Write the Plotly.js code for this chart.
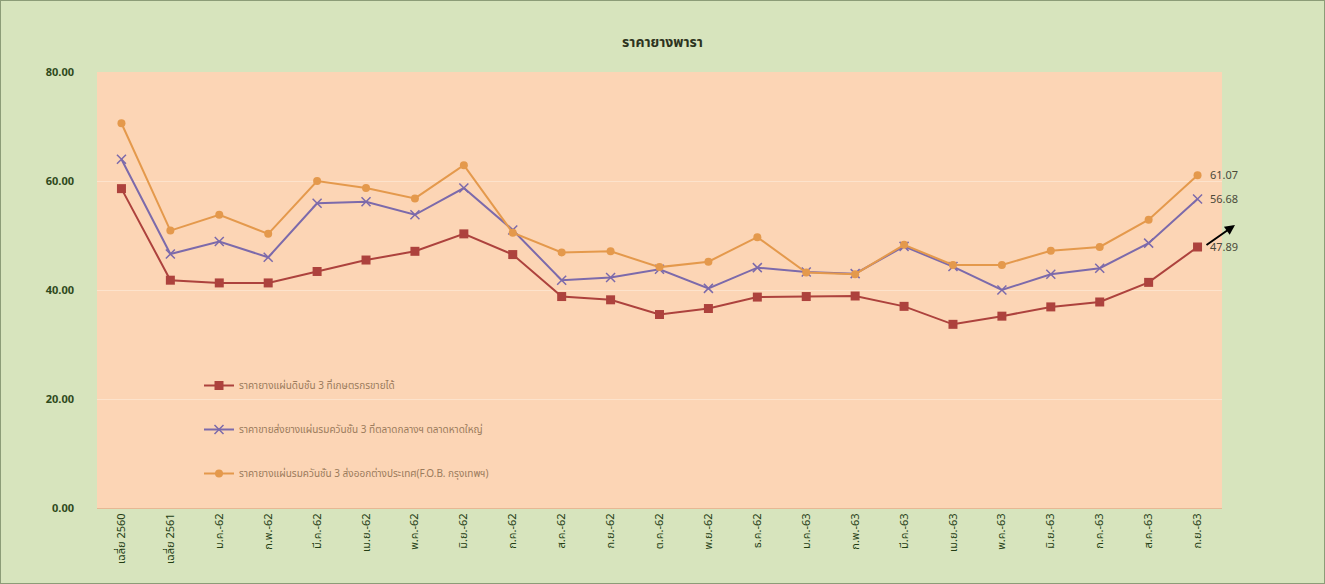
<!DOCTYPE html>
<html>
<head>
<meta charset="utf-8">
<script src="https://cdn.plot.ly/plotly-3.0.1.min.js"></script>
<style>
html,body{margin:0;padding:0;background:#d7e4bd;}
#chart{position:absolute;left:0;top:0;width:1323px;height:582px;border:1px solid #8c9c78;}
</style>
</head>
<body>
<div id="chart"></div>
<script>
const categories = ["เฉลี่ย 2560","เฉลี่ย 2561","ม.ค.-62","ก.พ.-62","มี.ค.-62","เม.ย.-62","พ.ค.-62","มิ.ย.-62","ก.ค.-62","ส.ค.-62","ก.ย.-62","ต.ค.-62","พ.ย.-62","ธ.ค.-62","ม.ค.-63","ก.พ.-63","มี.ค.-63","เม.ย.-63","พ.ค.-63","มิ.ย.-63","ก.ค.-63","ส.ค.-63","ก.ย.-63"];
const seriesNames = [
  "ราคายางแผ่นดิบชั้น 3 ที่เกษตรกรขายได้",
  "ราคาขายส่งยางแผ่นรมควันชั้น 3 ที่ตลาดกลางฯ ตลาดหาดใหญ่",
  "ราคายางแผ่นรมควันชั้น 3 ส่งออกต่างประเทศ(F.O.B. กรุงเทพฯ)"
];
const rawSheet = [58.6,41.8,41.3,41.3,43.4,45.5,47.1,50.3,46.5,38.8,38.2,35.5,36.6,38.7,38.8,38.9,37.0,33.7,35.2,36.9,37.8,41.4,47.89];
const smokedHatyai = [64.0,46.6,48.9,46.0,55.9,56.2,53.8,58.7,51.0,41.8,42.3,43.8,40.3,44.1,43.3,43.0,48.0,44.3,40.0,42.9,44.0,48.6,56.68];
const smokedFOB = [70.6,50.9,53.8,50.3,60.0,58.7,56.8,62.9,50.5,46.9,47.1,44.2,45.2,49.7,43.2,42.9,48.3,44.6,44.6,47.2,47.9,52.9,61.07];
const yTicks = [0,20,40,60,80];

const FONT = "'Noto Sans Thai','Noto Sans', 'DejaVu Sans', sans-serif";
const colors = ["#ad423d","#7c6aab","#e4994c"];
const symbols = ["square","x-thin","circle"];
const sizes = [9,9,8];
const allSeries = [rawSheet, smokedHatyai, smokedFOB];

const traces = allSeries.map((vals,i)=>({
  type:"scatter", mode:"lines+markers",
  x: categories.map((c,j)=>j), y: vals,
  name: seriesNames[i], legendgroup: "g"+i,
  line:{color:colors[i], width:2},
  marker:{symbol:symbols[i], size:sizes[i], color:colors[i], line:{color:colors[i], width: i===1?1.5:0}}
}));

const annotations = allSeries.map((vals,i)=>({
  x: categories.length-1, y: vals[vals.length-1], xref:"x", yref:"y",
  text: vals[vals.length-1].toFixed(2), showarrow:false, xanchor:"left", xshift:10,
  font:{family:FONT, size:11, color:"#4a4a3a"}
}));
annotations.push({
  xref:"paper", yref:"paper", x:(1235-97)/1125, y:(508-225)/436,
  ax:-30, ay:21, showarrow:true, arrowhead:2, arrowsize:1, arrowwidth:2, arrowcolor:"#000", text:""
});

const layout = {
  width:1323, height:582,
  paper_bgcolor:"#d7e4bd", plot_bgcolor:"#fcd5b5",
  margin:{l:96, r:102, t:71, b:75},
  title:{text:"<b>ราคายางพารา</b>", x:0.5, xanchor:"center", y:1-41/582, yanchor:"middle",
         font:{family:FONT, size:14, color:"#2d3320"}},
  showlegend:true,
  legend:{x:(198-96)/1125, y:(508-371)/436, xanchor:"left", yanchor:"top",
          bgcolor:"rgba(0,0,0,0)", tracegroupgap:25, itemwidth:30,
          font:{family:FONT, size:10, color:"#9b7b5c"}},
  xaxis:{
    range:[-0.5, categories.length-0.5],
    tickmode:"array", tickvals: categories.map((c,j)=>j), ticktext: categories,
    tickangle:-90, showgrid:false, zeroline:false,
    showline:true, linecolor:"#e6b894", linewidth:1,
    ticks:"", tickfont:{family:FONT, size:11, color:"#243d14"}, fixedrange:true
  },
  yaxis:{
    range:[0,80], tickmode:"array", tickvals:yTicks, ticktext:yTicks.map(v=>"<b>"+v.toFixed(2)+"</b>"),
    showgrid:true, gridcolor:"#fde3cc", gridwidth:1, zeroline:false, showline:false,
    ticklabelstandoff:22,
    tickfont:{family:FONT, size:11, color:"#2f4a1c"}, fixedrange:true
  },
  annotations: annotations
};

Plotly.newPlot("chart", traces, layout, {displayModeBar:false, staticPlot:true});
</script>
</body>
</html>
